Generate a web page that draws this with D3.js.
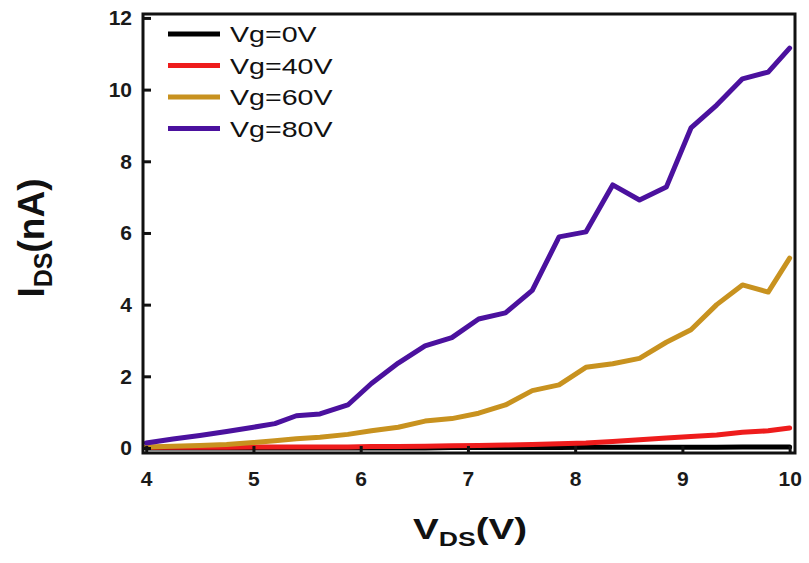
<!DOCTYPE html>
<html>
<head>
<meta charset="utf-8">
<script src="https://cdn.jsdelivr.net/npm/d3@7"></script>
<style>
  body { margin: 0; background: #fff; }
  svg { display: block; font-family: "Liberation Sans", Arial, sans-serif; }
</style>
</head>
<body>
<div id="chart"></div>
<script>
// drain-source voltage (V)
const vds = [4.0, 4.25, 4.5, 4.75, 5.0, 5.2, 5.4, 5.62, 5.88, 6.1, 6.35, 6.6, 6.85,
             7.1, 7.35, 7.6, 7.85, 8.1, 8.35, 8.6, 8.85, 9.08, 9.32, 9.56, 9.8, 10.0];

// drain-source current (nA) per gate voltage
const ids0 = [0.0, 0.0, 0.0, 0.0, 0.0, 0.0, 0.0, 0.0, 0.0, 0.0, 0.0, 0.0, 0.01,
              0.01, 0.01, 0.01, 0.01, 0.02, 0.02, 0.02, 0.02, 0.02, 0.02, 0.03, 0.03, 0.03];
const ids40 = [0.02, 0.02, 0.02, 0.02, 0.03, 0.03, 0.03, 0.03, 0.03, 0.04, 0.04, 0.05, 0.06,
               0.07, 0.08, 0.1, 0.12, 0.14, 0.18, 0.23, 0.28, 0.32, 0.36, 0.44, 0.48, 0.56];
const ids60 = [0.03, 0.05, 0.07, 0.1, 0.15, 0.2, 0.26, 0.3, 0.38, 0.48, 0.58, 0.75, 0.82,
               0.97, 1.2, 1.6, 1.76, 2.25, 2.35, 2.5, 2.95, 3.3, 4.0, 4.55, 4.35, 5.3];
const ids80 = [0.14, 0.25, 0.35, 0.46, 0.58, 0.68, 0.9, 0.95, 1.2, 1.8, 2.37, 2.85, 3.08,
               3.6, 3.77, 4.4, 5.89, 6.03, 7.34, 6.92, 7.28, 8.93, 9.57, 10.3, 10.49, 11.16];

const seriesNames = ["Vg=0V", "Vg=40V", "Vg=60V", "Vg=80V"];
const seriesValues = [ids0, ids40, ids60, ids80];
const seriesColors = ["#000000", "#ee1c1c", "#c8921f", "#4b119e"];

const xTicks = [4, 5, 6, 7, 8, 9, 10];
const yTicks = [0, 2, 4, 6, 8, 10, 12];

const width = 809;
const height = 563;
const margin = {top: 14, right: 14, bottom: 110, left: 143};
const innerWidth = width - margin.left - margin.right;
const innerHeight = height - margin.top - margin.bottom;

const svg = d3.select("#chart")
    .append("svg")
    .attr("width", width)
    .attr("height", height);

const graph = svg.append("g")
    .attr("transform", `translate(${margin.left}, ${margin.top})`);

const xScale = d3.scaleLinear()
    .domain([3.97, 10.05])
    .range([0, innerWidth]);

const yScale = d3.scaleLinear()
    .domain([-0.14, 12.11])
    .range([innerHeight, 0]);

graph.append("clipPath").attr("id", "plot-clip")
    .append("rect")
    .attr("width", innerWidth)
    .attr("height", innerHeight);

const line = d3.line()
    .x(d => xScale(d[0]))
    .y(d => yScale(d[1]));

const lines = graph.append("g").attr("clip-path", "url(#plot-clip)");

seriesValues.forEach((vals, i) => {
    lines.append("path")
        .datum(vds.map((v, j) => [v, vals[j]]))
        .attr("fill", "none")
        .attr("stroke", seriesColors[i])
        .attr("stroke-width", 5)
        .attr("stroke-linejoin", "round")
        .attr("stroke-linecap", "round")
        .attr("d", line);
});

// axes with inward ticks
const xAxis = graph.append("g")
    .attr("class", "x-axis")
    .attr("transform", `translate(0, ${innerHeight})`)
    .call(d3.axisBottom(xScale).tickValues(xTicks).tickFormat(d3.format("d"))
        .tickSizeInner(-7).tickSizeOuter(0).tickPadding(18));

const yAxis = graph.append("g")
    .attr("class", "y-axis")
    .call(d3.axisLeft(yScale).tickValues(yTicks).tickFormat(d3.format("d"))
        .tickSizeInner(-8).tickSizeOuter(0).tickPadding(11));

[xAxis, yAxis].forEach(ax => {
    ax.select(".domain").remove();
    ax.selectAll(".tick line").attr("stroke", "#111").attr("stroke-width", 3);
    ax.selectAll(".tick text")
        .attr("fill", "#1a1a1a")
        .style("font-size", "21px")
        .style("font-weight", "bold")
        .style("font-family", "'Liberation Sans', Arial, sans-serif");
});

graph.append("rect")
    .attr("width", innerWidth)
    .attr("height", innerHeight)
    .attr("fill", "none")
    .attr("stroke", "#111")
    .attr("stroke-width", 3);

// legend (text looks horizontally stretched in the original)
const legend = graph.append("g")
    .attr("transform", "translate(25, 20)");

seriesNames.forEach((name, i) => {
    const row = legend.append("g").attr("transform", `translate(0, ${i * 31.5})`);
    row.append("line")
        .attr("x1", 0).attr("x2", 52)
        .attr("y1", 0).attr("y2", 0)
        .attr("stroke", seriesColors[i])
        .attr("stroke-width", 5);
    row.append("text")
        .attr("transform", "translate(62, 8) scale(1.3, 1)")
        .attr("fill", "#111")
        .style("font-size", "22px")
        .text(name);
});

// axis titles
const xLabel = svg.append("text")
    .attr("transform", "translate(470, 539) scale(1.33, 1)")
    .attr("text-anchor", "middle")
    .attr("fill", "#111")
    .style("font-size", "29px")
    .style("font-weight", "bold");
xLabel.append("tspan").text("V");
xLabel.append("tspan").attr("dy", 7).style("font-size", "20px").text("DS");
xLabel.append("tspan").attr("dy", -7).text("(V)");

const yLabel = svg.append("text")
    .attr("transform", "translate(44, 238) rotate(-90)")
    .attr("text-anchor", "middle")
    .attr("fill", "#111")
    .style("font-size", "37px")
    .style("font-weight", "bold");
yLabel.append("tspan").text("I");
yLabel.append("tspan").attr("dy", 8).style("font-size", "25px").text("DS");
yLabel.append("tspan").attr("dy", -8).text("(nA)");
</script>
</body>
</html>
